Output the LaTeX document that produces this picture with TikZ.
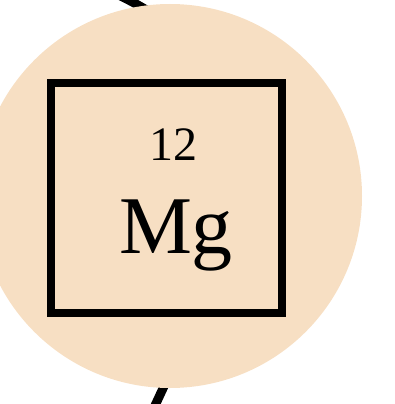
\documentclass[tikz,border=0pt]{standalone}
\usepackage{fontspec}
\setmainfont{Liberation Serif}
\usepackage{tikz}
\usetikzlibrary{arrows.meta,positioning}
\definecolor{mgbeige}{RGB}{247,223,195}

\begin{document}
\begin{tikzpicture}[x=1pt,y=-1pt,>=Latex]
\useasboundingbox (0,0) rectangle (395,404);
% orbit passing behind the atom
\coordinate (orbA) at (108,-10);
\coordinate (orbB) at (152,412);
\draw[line width=9pt] (orbA) .. controls (308,80) and (236,232) .. (orbB);
\node[circle,fill=mgbeige,minimum size=384pt,inner sep=0pt] (atom) at (170,196) {};
\node[draw=black,line width=8pt,fill=mgbeige,minimum width=231pt,minimum height=230pt,inner sep=0pt] (cell) at (166.5,198) {};
\node[anchor=base,font=\fontsize{48}{48}\selectfont,inner sep=0pt] (num) at (173,160) {12};
\node[anchor=base,font=\fontsize{82}{82}\selectfont,inner sep=0pt] (sym) at (176,253) {Mg};
\end{tikzpicture}
\end{document}
